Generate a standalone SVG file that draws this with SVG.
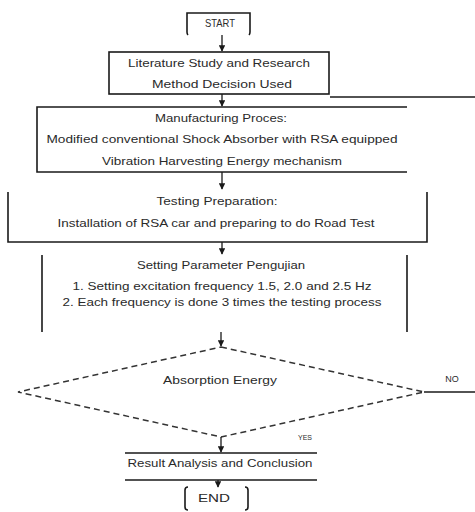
<svg xmlns="http://www.w3.org/2000/svg" width="475" height="512" viewBox="0 0 475 512">
<defs>
<marker id="ah" viewBox="0 0 10 10" refX="9" refY="5" markerWidth="5" markerHeight="5" orient="auto">
<path d="M0,0 L10,5 L0,10 z" fill="#1a1a1a"/>
</marker>
<style>
.ln{stroke:#1a1a1a;stroke-width:1.6;fill:none}
.dash{stroke:#333;stroke-width:1.5;fill:none;stroke-dasharray:6 4}
.conn{stroke:#1a1a1a;stroke-width:1.3;fill:none;marker-end:url(#ah)}
text{font-family:"Liberation Sans",Arial,sans-serif;font-size:10.5px;fill:#2a2a2a;text-anchor:middle}
.sm{font-size:7px}
</style>
</defs>
<rect width="475" height="512" fill="#fff"/>

<g id="start">
<path class="ln" d="M188,35 Q187,34 187,32 L187,13 L250,13 L250,32 Q250,34 249,35"/>
<text x="220" y="27" textLength="30" lengthAdjust="spacingAndGlyphs">START</text>
</g>

<g id="literature">
<rect class="ln" x="109" y="52" width="220" height="42"/>
<text x="219" y="67" textLength="182" lengthAdjust="spacingAndGlyphs">Literature Study and Research</text>
<text x="222" y="88" textLength="140" lengthAdjust="spacingAndGlyphs">Method Decision Used</text>
</g>

<g id="manufacturing">
<path class="ln" d="M407,107 L37,107 L37,172 L407,172"/>
<text x="221" y="122" textLength="132" lengthAdjust="spacingAndGlyphs">Manufacturing Proces:</text>
<text x="222" y="143" textLength="351" lengthAdjust="spacingAndGlyphs">Modified conventional Shock Absorber with RSA equipped</text>
<text x="222" y="165" textLength="240" lengthAdjust="spacingAndGlyphs">Vibration Harvesting Energy mechanism</text>
</g>

<g id="testing">
<path class="ln" d="M8,192 L8,242 L427,242 L427,192"/>
<text x="217" y="205" textLength="121" lengthAdjust="spacingAndGlyphs">Testing Preparation:</text>
<text x="216" y="227" textLength="317" lengthAdjust="spacingAndGlyphs">Installation of RSA car and preparing to do Road Test</text>
</g>

<g id="setting">
<path class="ln" d="M42,255 L42,332 M407,255 L407,332"/>
<text x="221" y="269" textLength="168" lengthAdjust="spacingAndGlyphs">Setting Parameter Pengujian</text>
<text x="222" y="290" textLength="299" lengthAdjust="spacingAndGlyphs">1. Setting excitation frequency 1.5, 2.0 and 2.5 Hz</text>
<text x="222" y="306" textLength="319" lengthAdjust="spacingAndGlyphs">2. Each frequency is done 3 times the testing process</text>
</g>

<g id="decision">
<path class="dash" d="M221,347 L424,392 L221,437 L18,392 Z"/>
<text x="220" y="384" textLength="114" lengthAdjust="spacingAndGlyphs">Absorption Energy</text>
</g>

<g id="result">
<path class="ln" d="M125,453 L317,453 M125,480 L317,480"/>
<text x="220" y="467" textLength="185" lengthAdjust="spacingAndGlyphs">Result Analysis and Conclusion</text>
</g>

<g id="end">
<path class="ln" d="M188,487 Q185,487 185,490 L185,507 Q185,510 188,510 M245,487 Q248,487 248,490 L248,507 Q248,510 245,510"/>
<text x="214" y="502" textLength="32" lengthAdjust="spacingAndGlyphs">END</text>
</g>

<g id="connectors">
<line class="conn" x1="222" y1="35" x2="222" y2="51"/>
<line class="conn" x1="222" y1="94" x2="222" y2="106"/>
<line class="conn" x1="222" y1="172" x2="222" y2="189"/>
<line class="conn" x1="222" y1="242" x2="222" y2="254"/>
<line class="conn" x1="221" y1="332" x2="221" y2="346"/>
<line class="conn" x1="221" y1="437" x2="221" y2="452"/>
<line class="conn" x1="218" y1="480" x2="218" y2="487"/>
<path class="ln" d="M424,392 L475,392"/>
<path class="ln" d="M475,97 L330,97"/>
<text class="sm" x="452" y="382" style="font-size:9px">NO</text>
<text class="sm" x="305" y="440">YES</text>
</g>
</svg>
